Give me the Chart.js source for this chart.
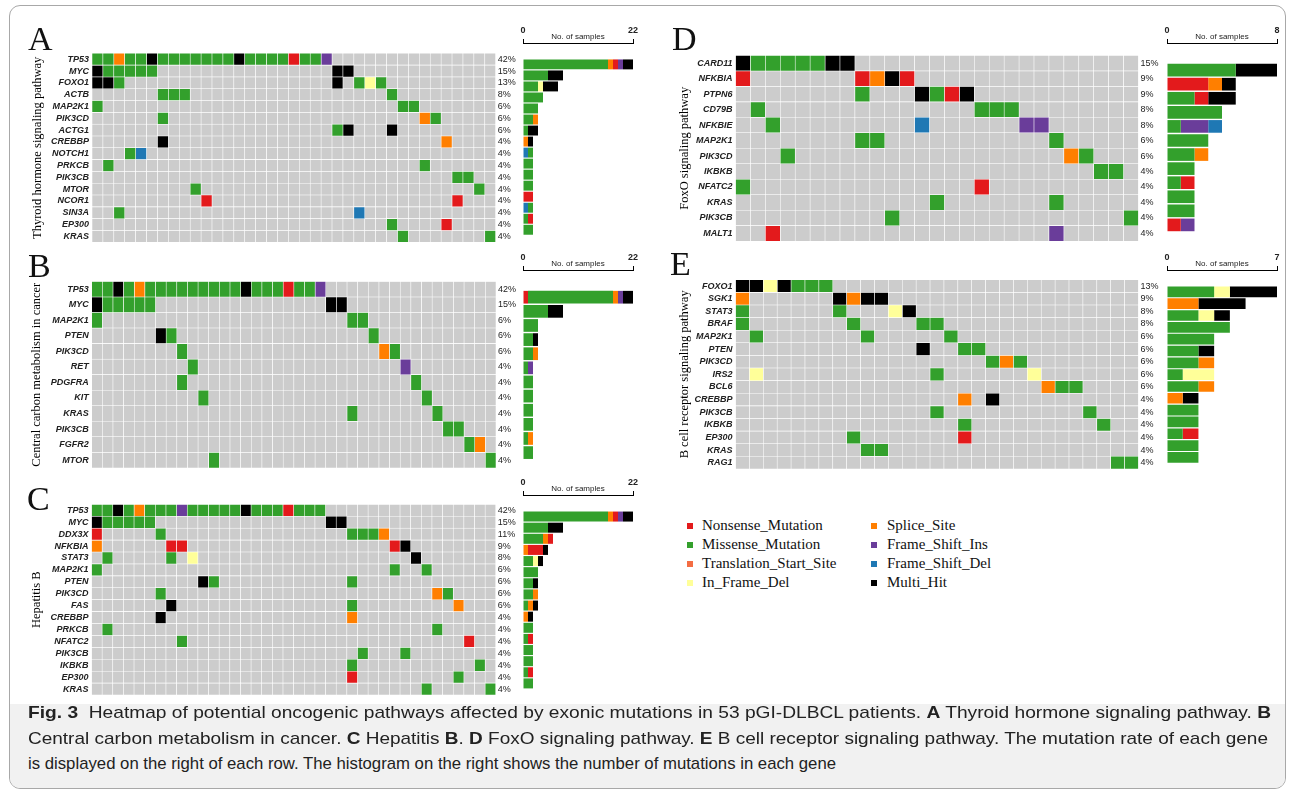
<!DOCTYPE html>
<html><head><meta charset="utf-8">
<script src="https://cdn.jsdelivr.net/npm/chart.js@4.4.1/dist/chart.umd.min.js"></script>
<style>
html,body{margin:0;padding:0;background:#fff;}
body{width:1293px;height:795px;position:relative;overflow:hidden;font-family:"Liberation Sans",Arial,sans-serif;}
canvas{position:absolute;}
#frame{position:absolute;left:9px;top:5px;width:1277px;height:784px;border:1px solid #a8a8a8;border-radius:11px;box-sizing:border-box;overflow:hidden;}
#capbg{position:absolute;left:0;right:0;top:698px;bottom:0;background:#f1f1f1;}
.letter{position:absolute;font-family:"Liberation Serif","Times New Roman",serif;font-size:34px;line-height:34px;color:#111;}
.leg{position:absolute;font-family:"Liberation Serif","Times New Roman",serif;font-size:15px;line-height:19px;color:#111;white-space:nowrap;}
.mk{position:absolute;width:6px;height:6px;}
.cap{position:absolute;left:28px;white-space:nowrap;font-family:"Liberation Sans",Arial,sans-serif;font-size:17px;line-height:25px;color:#222;transform-origin:0 0;}
</style>
</head>
<body>
<div id="frame"><div id="capbg"></div></div>
<div id="root"></div>
<script>
// ---------------- DATA ----------------
// mutation codes: G Missense, R Nonsense, T Translation_Start_Site, Y In_Frame_Del,
// O Splice_Site, P Frame_Shift_Ins, B Frame_Shift_Del, K Multi_Hit
const typeCodes = ["R","G","T","Y","O","P","B","K"];
const typeNames = ["Nonsense_Mutation","Missense_Mutation","Translation_Start_Site","In_Frame_Del","Splice_Site","Frame_Shift_Ins","Frame_Shift_Del","Multi_Hit"];
const typeColors = ["#E31A1C","#33A02C","#F46D43","#FFFF99","#FF7F00","#6A3D9A","#1F78B4","#000000"];
const axisTitle = "No. of samples";

// Panel A
const titleA = "Thyroid hormone signaling pathway";
const genesA = ["TP53","MYC","FOXO1","ACTB","MAP2K1","PIK3CD","ACTG1","CREBBP","NOTCH1","PRKCB","PIK3CB","MTOR","NCOR1","SIN3A","EP300","KRAS"];
const pctA = ["42%","15%","13%","8%","6%","6%","6%","4%","4%","4%","4%","4%","4%","4%","4%","4%"];
const mutA = ["G1-2 O3 G4-5 K6 G7-13 K14 G15-18 R19 G20-21 P22","K1 G2-6 K23-24","K1-2 G3 K23 G25 Y26 G27","G7-9 G28","G1 G29-30","G7 O31 G32","G23 K24 K28","K7 O33","G4 B5","G2 G31","G34-35","G10 G36","R11 R34","G3 B25","G28 R33","G29 G37"];
const samplesA = 37, maxA = 22;
const stackA = ["B","G","Y","O","R","P","K"];

// Panel B
const titleB = "Central carbon metabolism in cancer";
const genesB = ["TP53","MYC","MAP2K1","PTEN","PIK3CD","RET","PDGFRA","KIT","KRAS","PIK3CB","FGFR2","MTOR"];
const pctB = ["42%","15%","6%","6%","6%","4%","4%","4%","4%","4%","4%","4%"];
const mutB = ["G1-2 K3 G4 O5 G6-14 K15 G16-18 R19 G20-21 P22","K1 G2-6 K23-24","G1 G25-26","K7 G8 G27","G9 O28 G29","G10 P30","G9 G31","G11 G32","G25 G33","G34-35","G36 O37","G12 G38"];
const samplesB = 38, maxB = 22;
const stackB = ["R","G","O","P","K"];

// Panel C
const titleC = "Hepatitis B";
const genesC = ["TP53","MYC","DDX3X","NFKBIA","STAT3","MAP2K1","PTEN","PIK3CD","FAS","CREBBP","PRKCB","NFATC2","PIK3CB","IKBKB","EP300","KRAS"];
const pctC = ["42%","15%","11%","9%","8%","6%","6%","6%","6%","4%","4%","4%","4%","4%","4%","4%"];
const mutC = ["G1-2 K3 G4 O5 G6-8 P9 G10-14 K15 G16-18 R19 G20-22","K1 G2-6 K23-24","R1 G7 G25-27 O28","O1 R8-9 R29 K30","G2 G8 Y10 K31","G1 G29 G32","K11 G12 G25","G7 O33 G34","K8 G25 O35","K7 O25","G2 G33","G9 R36","G26 G30","G25 G37","R25 G35","G32 G38"];
const samplesC = 38, maxC = 22;
const stackC = ["G","Y","O","R","P","K"];

// Panel D
const titleD = "FoxO signaling pathway";
const genesD = ["CARD11","NFKBIA","PTPN6","CD79B","NFKBIE","MAP2K1","PIK3CD","IKBKB","NFATC2","KRAS","PIK3CB","MALT1"];
const pctD = ["15%","9%","9%","8%","8%","6%","6%","4%","4%","4%","4%","4%"];
const mutD = ["K1 G2-6 K7-8","R1 R9 O10 K11 R12","G9 K13 G14 R15 K16","G2 G17-19","G3 B13 P20-21","G9-10 G22","G4 O23 G24","G25-26","G1 R17","G14 G22","G11 G27","R3 P22"];
const samplesD = 27, maxD = 8;
const stackD = ["G","R","O","P","B","K"];

// Panel E
const titleE = "B cell receptor signaling pathway";
const genesE = ["FOXO1","SGK1","STAT3","BRAF","MAP2K1","PTEN","PIK3CD","IRS2","BCL6","CREBBP","PIK3CB","IKBKB","EP300","KRAS","RAG1"];
const pctE = ["13%","9%","8%","8%","6%","6%","6%","6%","6%","4%","4%","4%","4%","4%","4%"];
const mutE = ["K1-2 Y3 K4 G5-7","O1 K8 O9 K10-11","G1 G8 Y12 K13","G1 G9 G14-15","G2 G10 G16","K14 G17-18","G19 O20 G21","Y2 G15 Y22","O23 G24-25","O17 K19","G15 G26","G17 G27","G9 R17","G10-11","G28-29"];
const samplesE = 29, maxE = 7;
const stackE = ["G","Y","O","R","K"];

const panelLetters = ["A","B","C","D","E"];
const captionLines = [
  '<b>Fig. 3</b>&nbsp; Heatmap of potential oncogenic pathways affected by exonic mutations in 53 pGI-DLBCL patients. <b>A</b> Thyroid hormone signaling pathway. <b>B</b>',
  'Central carbon metabolism in cancer. <b>C</b> Hepatitis <b>B</b>. <b>D</b> FoxO signaling pathway. <b>E</b> B cell receptor signaling pathway. The mutation rate of each gene',
  'is displayed on the right of each row. The histogram on the right shows the number of mutations in each gene'
];

// ---------------- LAYOUT ----------------
const GREY = "#CCCCCC";
const SANS = '"Liberation Sans", Arial, sans-serif';
const SERIF = '"Liberation Serif", "Times New Roman", serif';
const colorOf = c => typeColors[typeCodes.indexOf(c)];
const nameOf = c => typeNames[typeCodes.indexOf(c)];

const panels = [
  {title:titleA, genes:genesA, pct:pctA, mut:mutA, ncol:samplesA, max:maxA, stack:stackA,
   area:{l:92, r:495.7, t:46.7, b:248.3}, titleX:37.5, bars:{l:523.3, r:633.3}, letter:{x:28, y:22}},
  {title:titleB, genes:genesB, pct:pctB, mut:mutB, ncol:samplesB, max:maxB, stack:stackB,
   area:{l:91.7, r:496, t:273.3, b:476.7}, titleX:36.5, bars:{l:523.3, r:633.3}, letter:{x:28, y:249}},
  {title:titleC, genes:genesC, pct:pctC, mut:mutC, ncol:samplesC, max:maxC, stack:stackC,
   area:{l:91.7, r:496, t:498.3, b:701.7}, titleX:36.7, bars:{l:523.3, r:633.3}, letter:{x:27, y:482}},
  {title:titleD, genes:genesD, pct:pctD, mut:mutD, ncol:samplesD, max:maxD, stack:stackD,
   area:{l:735, r:1138, t:46.7, b:249.3}, titleX:684, bars:{l:1166.7, r:1276.7}, letter:{x:672, y:22}},
  {title:titleE, genes:genesE, pct:pctE, mut:mutE, ncol:samplesE, max:maxE, stack:stackE,
   area:{l:735, r:1138, t:273.3, b:476}, titleX:684, bars:{l:1166.7, r:1276.7}, letter:{x:670, y:247}}
];

function parseRow(str, ncol) {
  const row = new Array(ncol + 1).fill(null);
  str.split(/\s+/).filter(Boolean).forEach(tok => {
    const code = tok[0];
    const parts = tok.slice(1).split('-').map(Number);
    const a = parts[0], b = parts.length > 1 ? parts[1] : parts[0];
    for (let c = a; c <= b; c++) row[c] = code;
  });
  return row;
}

function addCanvas(box) {
  const cv = document.createElement('canvas');
  cv.width = Math.round(box.right - box.left);
  cv.height = Math.round(box.bottom - box.top);
  cv.style.left = box.left + 'px';
  cv.style.top = box.top + 'px';
  document.getElementById('root').appendChild(cv);
  return cv;
}

function makeHeatmap(P) {
  const n = P.genes.length;
  const rows = P.mut.map(s => parseRow(s, P.ncol));
  const box = {left: P.titleX - 7.5, top: P.area.t - 12, right: P.area.r + 30, bottom: P.area.b + 12};
  box.right = box.left + Math.round(box.right - box.left);
  box.bottom = box.top + Math.round(box.bottom - box.top);
  const cv = addCanvas(box);
  const datasets = [];
  typeCodes.forEach(code => {
    const d = [];
    rows.forEach((r, i) => r.forEach((v, c) => { if (v === code) d.push({x:[c - 0.5, c + 0.5], y:i}); }));
    if (d.length) datasets.push({label:nameOf(code), data:d, backgroundColor:colorOf(code)});
  });
  // grey background cells: last dataset, so it is drawn first (underneath)
  const bg = [];
  for (let i = 0; i < n; i++) for (let c = 1; c <= P.ncol; c++) bg.push({x:[c - 0.5, c + 0.5], y:i});
  datasets.push({label:'none', data:bg, backgroundColor:GREY});
  datasets.forEach(ds => Object.assign(ds, {borderColor:'#ffffff', borderWidth:0.6, borderSkipped:false, grouped:false, barPercentage:1, categoryPercentage:1}));
  const rowTicks = s => { s.ticks = P.genes.map((g, i) => ({value:i})); };
  new Chart(cv, {
    type:'bar',
    data:{datasets},
    options:{
      indexAxis:'y', responsive:false, animation:false, devicePixelRatio:1,
      layout:{padding:{left:0, right:0, top:P.area.t - box.top, bottom:box.bottom - P.area.b}},
      plugins:{legend:{display:false}, tooltip:{enabled:false}},
      scales:{
        x:{type:'linear', min:0.5, max:P.ncol + 0.5, display:false},
        y:{type:'linear', position:'left', min:-0.5, max:n - 0.5, reverse:true,
           afterBuildTicks:rowTicks,
           afterFit:s => { s.width = P.area.l - box.left; },
           ticks:{callback:v => P.genes[Math.round(v)], font:{family:SANS, size:9, style:'italic', weight:'bold'}, color:'#222', padding:3, autoSkip:false},
           grid:{display:false, drawTicks:false}, border:{display:false},
           title:{display:true, text:P.title, font:{family:SERIF, size:12.5}, color:'#000', padding:0}},
        y2:{type:'linear', position:'right', min:-0.5, max:n - 0.5, reverse:true,
           afterBuildTicks:rowTicks,
           afterFit:s => { s.width = box.right - P.area.r; },
           ticks:{callback:v => P.pct[Math.round(v)], font:{family:SANS, size:9}, color:'#222', padding:2, autoSkip:false},
           grid:{display:false, drawTicks:false}, border:{display:false}}
      }
    }
  });
}

const samplesTitle = {
  id:'samplesTitle',
  afterDraw(chart) {
    const {ctx, chartArea} = chart;
    ctx.save();
    ctx.font = '8px ' + SANS;
    ctx.fillStyle = '#222';
    ctx.textAlign = 'center';
    ctx.textBaseline = 'bottom';
    ctx.fillText(axisTitle, (chartArea.left + chartArea.right) / 2, chartArea.top - 2);
    ctx.restore();
  }
};

function makeBars(P) {
  const n = P.genes.length;
  const rows = P.mut.map(s => parseRow(s, P.ncol));
  const rowH = (P.area.b - P.area.t) / n;
  const lineY = P.area.t - 3.5;
  const box = {left:P.bars.l - 14, right:P.bars.r + 14, top:lineY - 26, bottom:P.area.b + 12};
  box.right = box.left + Math.round(box.right - box.left);
  box.bottom = box.top + Math.round(box.bottom - box.top);
  const cv = addCanvas(box);
  const datasets = P.stack.map(code => ({
    label:nameOf(code),
    data:rows.map((r, i) => ({x:r.filter(v => v === code).length, y:i})),
    backgroundColor:colorOf(code), borderWidth:0, barPercentage:0.9, categoryPercentage:1
  }));
  new Chart(cv, {
    type:'bar',
    data:{datasets},
    plugins:[samplesTitle],
    options:{
      indexAxis:'y', responsive:false, animation:false, devicePixelRatio:1,
      layout:{padding:{left:P.bars.l - box.left, right:box.right - P.bars.r, top:0, bottom:box.bottom - P.area.b}},
      plugins:{legend:{display:false}, tooltip:{enabled:false}},
      scales:{
        x:{type:'linear', position:'top', min:0, max:P.max, stacked:true,
           afterBuildTicks:s => { s.ticks = [{value:0}, {value:P.max}]; },
           afterFit:s => { s.height = lineY - box.top; },
           ticks:{font:{family:SANS, size:9, weight:'bold'}, color:'#222', padding:3, maxRotation:0, autoSkip:false},
           grid:{drawOnChartArea:false, tickLength:4, color:'#000', lineWidth:1},
           border:{display:true, color:'#000', width:1}},
        y:{type:'linear', min:-0.5 - (P.area.t - lineY) / rowH, max:n - 0.5, reverse:true, display:false, stacked:true,
           afterBuildTicks:s => { s.ticks = P.genes.map((g, i) => ({value:i})); }}
      }
    }
  });
}

panels.forEach((P, k) => {
  makeHeatmap(P);
  makeBars(P);
  const d = document.createElement('div');
  d.className = 'letter';
  d.style.left = P.letter.x + 'px';
  d.style.top = P.letter.y + 'px';
  d.textContent = panelLetters[k];
  document.getElementById('root').appendChild(d);
});

// legend (two columns)
const legendCols = [["R","G","T","Y"], ["O","P","B","K"]];
const legendX = [{mk:687, tx:702}, {mk:871, tx:887}];
const legendY = [526, 545, 564.3, 583.3];
legendCols.forEach((col, ci) => col.forEach((code, ri) => {
  const m = document.createElement('div');
  m.className = 'mk';
  m.style.left = legendX[ci].mk + 'px';
  m.style.top = (legendY[ri] - 3) + 'px';
  m.style.background = colorOf(code);
  document.getElementById('root').appendChild(m);
  const t = document.createElement('div');
  t.className = 'leg';
  t.style.left = legendX[ci].tx + 'px';
  t.style.top = (legendY[ri] - 10) + 'px';
  t.textContent = nameOf(code);
  document.getElementById('root').appendChild(t);
}));

// caption
const capTops = [699.5, 725.5, 750.5];
const capWidths = [1243, 1240, 808];
captionLines.forEach((html, i) => {
  const d = document.createElement('div');
  d.className = 'cap';
  d.style.top = capTops[i] + 'px';
  d.innerHTML = html;
  document.getElementById('root').appendChild(d);
  const w = d.getBoundingClientRect().width;
  d.style.transform = 'scaleX(' + (capWidths[i] / w) + ')';
});
</script>
</body></html>
